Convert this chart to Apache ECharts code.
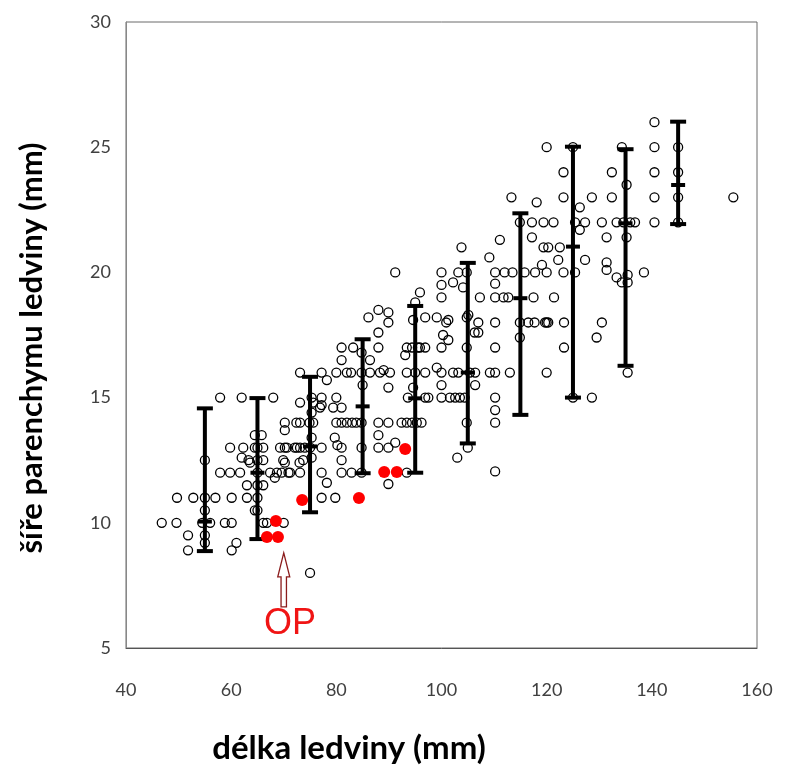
<!DOCTYPE html>
<html><head><meta charset="utf-8">
<script src="https://cdn.jsdelivr.net/npm/echarts@6/dist/echarts.min.js"></script>
<style>html,body{margin:0;padding:0;background:#fff}#c{width:785px;height:772px}</style>
</head><body><div id="c"></div>
<script>
// open circles: [kidney length (mm), parenchyma width (mm)]
const openPoints = [
[46.8,10],[49.6,10],[49.7,11],[52.8,11],[51.8,9.5],[51.8,8.9],[54.5,10],[55,12.5],[55,11],[55,10.5],[55,9.5],[55,9.2],[56,10],[57,11],[58.8,10],[60.1,10],[60.1,11],[61,9.2],[60.1,8.9],[57.9,12],[59.8,12],[61.7,12],[57.9,15],[59.8,13],[62,15],[62.3,13],[63.3,12.5],[62,12.6],
[63,11.5],[63,11],[63.6,12.4],[64.5,13.5],[65.8,13.5],[64.5,13],[64.5,10.5],[65,13],[65,12.5],[65,12],[65,11.5],[65,11],[65,10.5],[66.1,13],[66.1,12.5],[66.1,11.5],[66.1,10],[66.8,10],[67.4,12],[68,15],[68.7,12],[68.3,11.8],[69.3,13],[69.9,12.5],[70.2,14],[70.2,13.7],[70.6,13],[70.9,12],[70,10],[69.6,12],[70.2,12.4],[70.2,13],
[73.1,16],[77.2,16],[78.2,15.7],[75.3,15],[77.2,15],[73.1,14.8],[77.2,14.7],[79.4,14.6],[76.9,14.6],[73.1,14],[75.6,14],[72.4,14],[74.9,14],[75.3,14.4],[72.5,13],[75,13],[77.2,13],[73.1,13],[74,13],[75.3,13.4],[79.7,13.4],[73.7,12.5],[73,12.4],[75.3,12.6],[73.1,12],[71.2,12],[77.2,12],[78.2,11.6],[77.2,11],[79.8,11],[75,8],[72.1,13],[75.6,14.8],
[81,17],[83.2,17],[81,16.5],[80,16],[82,16],[82.8,16],[84.8,16],[86.4,16],[88.3,16],[89,16.1],[90.2,16],[89.9,15.4],[86.4,16.5],[84.8,16.8],[88,17],[88,17.6],[86.1,18.2],[88,18.5],[89.9,18.4],[89.9,18],[91.2,20],[80,15],[81,14.6],[80,14],[81,14],[82,14],[83,14],[83.8,14],[84.8,14],[88,14],[89.9,14],[88,13.5],[88,13],[89.9,13],[91.2,13.2],[84.8,13],[81,13],[80.2,13.1],[81,12.5],[81,12],[82.9,12],[84.8,12],[89.9,11.55],[85,15.5],
[95.9,19.2],[94.6,18.1],[96.9,18.2],[93.4,17],[94.4,17],[95.9,17],[93.1,16.7],[93.4,16],[95,16],[94.6,15.4],[96.9,15],[93.6,15],[92.4,14],[93.4,14],[94.4,14],[95.3,14],[96.2,14],[93.4,12],[99.1,18.2],[95.5,17],[96.9,17],[96.9,16],[99.1,16.2],[97.5,15],[95,18.8],
[100,20],[103.2,20],[104.8,20],[102.2,19.6],[100,19.5],[104.1,19.4],[100,19],[100.9,18],[101.3,17.3],[100.3,17.5],[100,17],[104.8,17],[104.8,18.2],[106.3,17.6],[107,17.6],[107,18],[107.3,19],[103.8,21],[109.1,20.6],[100,16],[102.2,16],[103.2,16],[105.4,16],[106.4,16],[109.2,16],[100,15.5],[106.4,15.5],[100,15],[101.6,15],[102.6,15],[103.5,15],[104.4,15],[104.8,14],[105,13],[103,12.6],[105.1,18.3],[101.3,18.1],
[110.2,20],[112,20],[113.5,20],[115.8,20],[117.8,20],[120,20],[110.2,19.55],[110.2,19],[111.8,19],[112.7,19],[117.5,19],[110.2,18],[114.9,18],[116.5,18],[117.7,18],[120,18],[114.9,17.4],[110.2,17],[110.2,16],[113,16],[120,16],[110.2,15],[110.2,14.5],[110.2,14],[110.2,12.05],[111.1,21.3],[121.4,19],[123.3,18],[123.3,17],[113.3,23],[118.1,22.8],[114.9,22],[117.2,22],[119.4,22],[117.2,21.4],[119.4,21],[119.1,20.3],
[120,25],[125,25],[134.3,25],[140.5,25],[140.5,26],[123.2,24],[132.4,24],[140.5,24],[135.2,23.5],[123.2,23],[128.6,23],[132.4,23],[140.5,23],[155.5,23],[126.3,22.6],[121.3,22],[125.4,22],[127.3,22],[130.5,22],[133.3,22],[134.6,22],[135.9,22],[136.8,22],[140.5,22],[126.3,21.7],[135.2,21.4],[131.4,21.4],[120.3,21],[122.5,21],[122.2,20.5],[127.3,20.5],[131.4,20.4],[123.2,20],[125.4,20],[131.4,20.1],[133.3,19.8],[134.3,19.6],[135.4,19.9],[135.4,19.6],[138.5,20],[119.7,18],[120.3,18],[130.5,18],[129.5,17.4],[135.4,16],[128.6,15],[125,15],[145,25],[145,24],[145,23],[145,22]
];
// red points (OP group)
const redX = [66.8, 68.9, 68.5, 73.5, 84.3, 89.1, 91.5, 93.1];
const redY = [9.43, 9.43, 10.07, 10.91, 10.99, 12.03, 12.03, 12.95];
// range bars per length group
const barX = [55, 65, 75, 85, 95, 105, 115, 125, 135, 145];
const barLow = [8.87, 9.35, 10.42, 11.98, 12.0, 13.17, 14.31, 15.0, 16.27, 21.93];
const barHigh = [14.57, 14.98, 15.83, 17.33, 18.66, 20.38, 22.36, 25.02, 24.92, 26.02];
const barMid = [10.05, 12.0, 13.05, 14.65, 14.97, 16.0, 18.97, 21.03, 21.96, 23.49];
const xTitle = 'délka ledviny (mm)';
const yTitle = 'šíře parenchymu ledviny (mm)';
const opLabel = 'OP';

const chart = echarts.init(document.getElementById('c'), null, {renderer: 'canvas'});
const labelStyle = {fontFamily: 'Lato', fontSize: 18, color: '#404040'};
chart.setOption({
  animation: false,
  backgroundColor: '#fff',
  grid: {left: 126, right: 28, top: 22, bottom: 124, show: true, borderColor: '#6a6a6a', borderWidth: 1},
  xAxis: {type: 'value', min: 40, max: 160, interval: 20,
    axisLine: {show: true, onZero: false, lineStyle: {color: '#555', width: 1}},
    axisTick: {show: false}, splitLine: {show: false},
    axisLabel: Object.assign({margin: 33}, labelStyle)},
  yAxis: {type: 'value', min: 5, max: 30, interval: 5,
    axisLine: {show: true, onZero: false, lineStyle: {color: '#888', width: 1}},
    axisTick: {show: false}, splitLine: {show: false},
    axisLabel: Object.assign({margin: 15}, labelStyle)},
  series: [
    {type: 'scatter', data: openPoints, symbol: 'circle', symbolSize: 9, z: 2,
      itemStyle: {color: 'rgba(255,255,255,0)', borderColor: '#000', borderWidth: 1.3, opacity: 1}},
    {type: 'custom', z: 3,
      data: barX.map((x, i) => [x, barLow[i], barHigh[i], barMid[i]]),
      encode: {x: 0, y: [1, 2]},
      renderItem: function (params, api) {
        const x = api.value(0);
        const lo = api.coord([x, api.value(1)]);
        const hi = api.coord([x, api.value(2)]);
        const md = api.coord([x, api.value(3)]);
        const cw = 8, mw = 7;
        const st = {stroke: '#000', lineWidth: 4};
        return {type: 'group', children: [
          {type: 'line', shape: {x1: lo[0], y1: lo[1], x2: hi[0], y2: hi[1]}, style: {stroke: '#000', lineWidth: 4}},
          {type: 'line', shape: {x1: hi[0] - cw, y1: hi[1], x2: hi[0] + cw, y2: hi[1]}, style: st},
          {type: 'line', shape: {x1: lo[0] - cw, y1: lo[1], x2: lo[0] + cw, y2: lo[1]}, style: st},
          {type: 'line', shape: {x1: md[0] - mw, y1: md[1], x2: md[0] + mw, y2: md[1]}, style: st}
        ]};
      }},
    {type: 'scatter', z: 4, data: redX.map((x, i) => [x, redY[i]]), symbol: 'circle', symbolSize: 12,
      itemStyle: {color: '#ff0000', opacity: 1}}
  ]
});

// annotation arrow and texts, positioned through the chart's coordinate system
const tip = chart.convertToPixel({gridIndex: 0}, [70, 8.8]);
const opPos = chart.convertToPixel({gridIndex: 0}, [71.2, 5.96]);
const tx = tip[0], ty = tip[1];
const hb = ty + 24, sb = ty + 54;
chart.setOption({
  graphic: [
    {type: 'polygon', z: 10, shape: {points: [[tx, ty], [tx + 6, hb], [tx + 2.7, hb], [tx + 2.7, sb], [tx - 2.7, sb], [tx - 2.7, hb], [tx - 6, hb]]},
      style: {fill: '#fff', stroke: '#8b1c1c', lineWidth: 1.3}},
    {type: 'text', z: 10, x: opPos[0], y: opPos[1],
      style: {text: opLabel, fontFamily: 'Liberation Sans', fontSize: 36, fill: '#f01414', textAlign: 'center', textVerticalAlign: 'middle'}},
    {type: 'text', x: 349, y: 748,
      style: {text: xTitle, fontFamily: 'Lato', fontWeight: 'bold', fontSize: 33, fill: '#000', textAlign: 'center', textVerticalAlign: 'middle'}},
    {type: 'text', x: 32, y: 348, rotation: Math.PI / 2,
      style: {text: yTitle, fontFamily: 'Lato', fontWeight: 'bold', fontSize: 31, fill: '#000', textAlign: 'center', textVerticalAlign: 'middle'}}
  ]
});
</script>
</body></html>
